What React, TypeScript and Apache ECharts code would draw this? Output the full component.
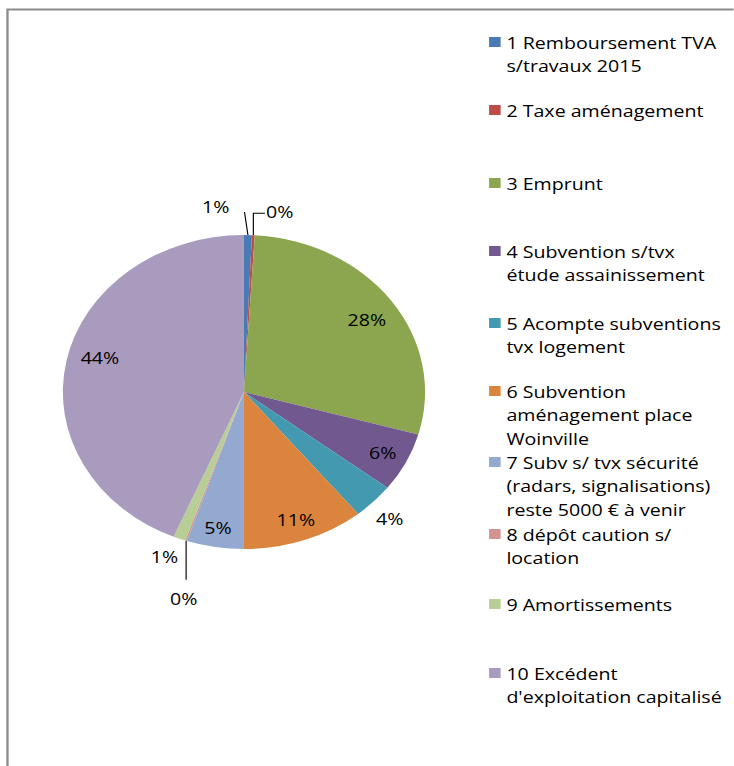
import React, { useEffect, useRef } from 'react';
import * as echarts from 'echarts';

// ---- data ----
const categories = [
  '1 Remboursement TVA s/travaux 2015',
  '2 Taxe aménagement',
  '3 Emprunt',
  '4 Subvention s/tvx étude assainissement',
  '5 Acompte subventions tvx logement',
  '6 Subvention aménagement place Woinville',
  '7 Subv s/ tvx sécurité (radars, signalisations) reste 5000 € à venir',
  '8 dépôt caution s/ location',
  '9 Amortissements',
  "10 Excédent d'exploitation capitalisé",
];
const values = [0.7, 0.25, 28.4, 6.1, 3.7, 10.85, 5.1, 0.15, 1.1, 43.65];
const legendLabels = [
  '1 Remboursement TVA\ns/travaux 2015',
  '2 Taxe aménagement',
  '3 Emprunt',
  '4 Subvention s/tvx\nétude assainissement',
  '5 Acompte subventions\ntvx logement',
  '6 Subvention\naménagement place\nWoinville',
  '7 Subv s/ tvx sécurité\n(radars, signalisations)\nreste 5000 € à venir',
  '8 dépôt caution s/\nlocation',
  '9 Amortissements',
  "10 Excédent\nd'exploitation capitalisé",
];
const colors = [
  '#4a7ab5', '#be4b48', '#8ba64f', '#71588f', '#4299b0',
  '#db843d', '#93a9cf', '#d19392', '#b9cd96', '#a99bbd',
];

// ---- layout / style ----
const STRETCH = 1.1535;
const BASE_W = Math.round(734 / STRETCH);
const FONT = "'Open Sans', sans-serif";
const FONT_SIZE = 17;
const LINE_H = 23.5;
const insideLabelIdx = [2, 3, 5, 6, 9];
const outsideLabelIdx = [0, 1, 4, 7, 8];
const legendLineCenters = [42, 110, 183, 251, 323, 391, 462, 534, 604, 673];
const labelLineShow: Record<number, boolean> = { 0: true, 1: true, 4: false, 7: true, 8: false };
// offsets relative to the slice's outer-edge anchor point computed by ECharts
const outsideLayout: Record<number, { line?: number[][]; at?: [number, number]; align?: string; nudge?: [number, number] }> = {
  0: { line: [[0, 0], [-3, -23]], at: [-28, -29], align: 'center' },
  1: { line: [[0, 0], [0, -22], [10, -22]], at: [11, -24], align: 'left' },
  4: { nudge: [-5, 14] },
  7: { line: [[0, 0], [0, 39]], at: [-2, 57], align: 'center' },
  8: { nudge: [5, 15] },
};
const insideNudges: Record<number, [number, number]> = {
  2: [-3, 5],
  6: [-1, 2],
  9: [7, -8],
};

const pct = (p: any) => Math.round(p.percent) + '%';

export default function App() {
  const ref = useRef<HTMLDivElement>(null);
  useEffect(() => {
    if (!ref.current) return;
    const chart = echarts.init(ref.current, undefined, { renderer: 'svg' });
    const center = [211.5, 392];
    const R = 157;
    const textBase = { fontFamily: FONT, fontSize: FONT_SIZE, color: '#000' };

    const mainData = categories.map((name, i) => {
      const out = outsideLabelIdx.includes(i);
      return {
        name,
        value: values[i],
        itemStyle: { color: colors[i] },
        label: { show: out, position: 'outside' },
        labelLine: out
          ? { show: labelLineShow[i], length: 3, length2: 0, lineStyle: { color: '#000', width: 1 } }
          : { show: false },
      };
    });
    const overlayData = categories.map((name, i) => ({
      name,
      value: values[i],
      itemStyle: { color: 'rgba(0,0,0,0)' },
      label: { show: insideLabelIdx.includes(i) },
    }));

    const legends = categories.map((name, i) => {
      const n = legendLabels[i].split('\n').length;
      return {
        orient: 'vertical',
        left: 424,
        top: legendLineCenters[i] - ((2 * n - 1) * LINE_H) / 2,
        padding: 0,
        itemWidth: 10,
        itemHeight: 10,
        itemGap: 0,
        icon: 'rect',
        selectedMode: false,
        formatter: (nm: string) => {
          const t = legendLabels[categories.indexOf(nm)];
          return '\n'.repeat(t.split('\n').length - 1) + t;
        },
        textStyle: { ...textBase, lineHeight: LINE_H },
        data: [name],
      };
    });

    chart.setOption({
      animation: false,
      backgroundColor: '#ffffff',
      legend: legends,
      graphic: [
        {
          type: 'rect',
          silent: true,
          z: -10,
          shape: { x: 6.5, y: 9.5, width: 800, height: 900 },
          style: { fill: 'none', stroke: '#8b8b8b', lineWidth: 2 },
        },
      ],
      series: [
        {
          type: 'pie',
          center,
          radius: [0, R],
          startAngle: 90,
          clockwise: true,
          avoidLabelOverlap: false,
          silent: true,
          itemStyle: { borderWidth: 0 },
          label: { ...textBase, formatter: pct },
          labelLayout: (p: any) => {
            const cfg = outsideLayout[p.dataIndex];
            if (!cfg) return {};
            if (cfg.nudge) return { dx: cfg.nudge[0], dy: cfg.nudge[1] };
            const pts = p.labelLinePoints;
            if (!pts || !pts.length) return {};
            const [ax, ay] = pts[0];
            const res: any = {
              x: ax + cfg.at![0],
              y: ay + cfg.at![1],
              align: cfg.align,
              verticalAlign: 'middle',
            };
            if (cfg.line) res.labelLinePoints = cfg.line.map(([dx, dy]) => [ax + dx, ay + dy]);
            return res;
          },
          data: mainData,
        },
        {
          type: 'pie',
          center,
          radius: [106, R],
          startAngle: 90,
          clockwise: true,
          avoidLabelOverlap: false,
          silent: true,
          itemStyle: { borderWidth: 0 },
          label: { ...textBase, position: 'inside', formatter: pct },
          labelLine: { show: false },
          labelLayout: (p: any) => {
            const n = insideNudges[p.dataIndex];
            return n ? { dx: n[0], dy: n[1] } : {};
          },
          data: overlayData,
        },
      ],
    });
    return () => chart.dispose();
  }, []);

  return (
    <div style={{ position: 'absolute', left: 0, top: 0, width: 734, height: 766, overflow: 'hidden', background: '#fff' }}>
      <div
        ref={ref}
        style={{
          width: BASE_W,
          height: 766,
          transform: `scaleX(${STRETCH})`,
          transformOrigin: '0 0',
        }}
      />
    </div>
  );
}
